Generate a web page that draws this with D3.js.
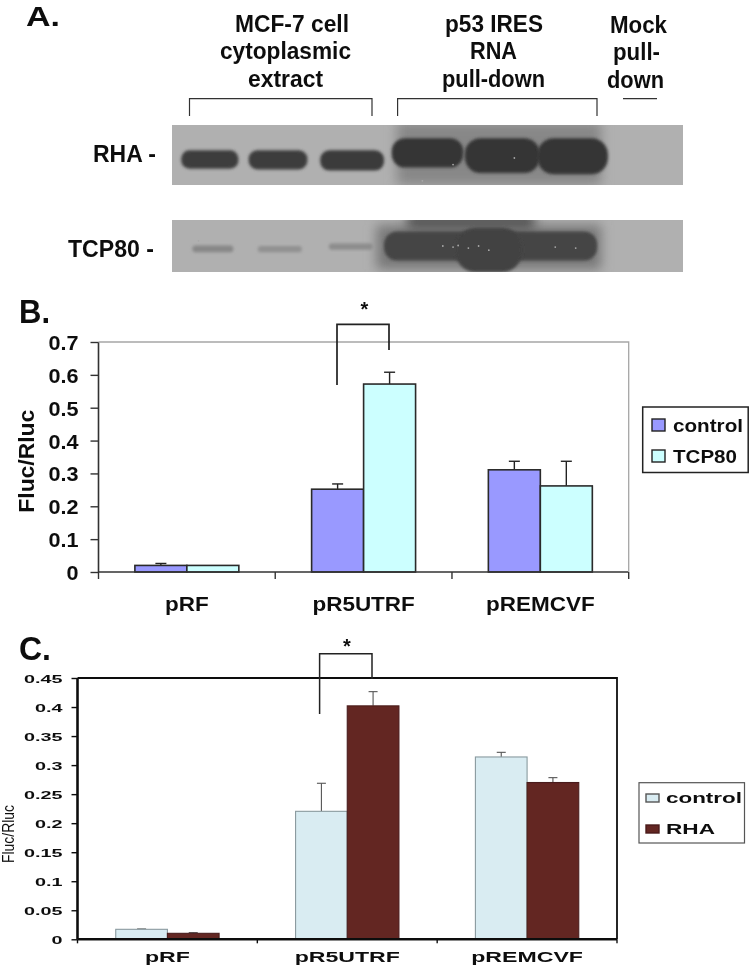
<!DOCTYPE html>
<html><head><meta charset="utf-8">
<script src="https://cdn.jsdelivr.net/npm/d3@7"></script>
<style>html,body{margin:0;padding:0;background:#fff}svg{display:block}text{font-family:"Liberation Sans",Arial,sans-serif;font-weight:bold;fill:#111}</style>
</head><body><div id="c"></div>
<script>
// ---- data ----
const categories = ["pRF","pR5UTRF","pREMCVF"];
const bControl = [0.02,0.252,0.311];
const bControlTop = [0.026,0.268,0.337];
const bTCP80 = [0.02,0.572,0.262];
const bTCP80Top = [0.02,0.608,0.337];
const bTicks = [0,0.1,0.2,0.3,0.4,0.5,0.6,0.7];
const cControl = [0.0172,0.2204,0.314];
const cControlTop = [0.0178,0.2687,0.322];
const cRHA = [0.0103,0.402,0.27];
const cRHATop = [0.0115,0.4265,0.2784];
const cTicks = [0,0.05,0.1,0.15,0.2,0.25,0.3,0.35,0.4,0.45];
// blot bands: extent across and along the gel in percent of the membrane, and grey level
const rhaBands = [[1.8,13,42,73,60],[15,26.5,42,74,60],[29,41.5,42,76,58],[43,57,22,71,54],[57.3,72,22,80,54],[71.5,85.3,22,82,54]];
const tcpBands = [[4,12,49,62,135],[16.8,25.4,50,62,145],[30.7,39.3,45,57,140],[41.5,83.2,22,78,68],[55.5,68.5,15,100,66]];
const tcpSmear = [[46,71,-10,50,72],[40,84,10,95,120]];
const rhaHalo = [[44,84,-5,100,135]];
const specks = [[5.2,40],[53,50],[55,52],[56,49],[58,54],[60,50],[62,58],[75,52],[79,54]];

const W=750,H=966;
const svg=d3.select("#c").append("svg").attr("width",W).attr("height",H);
const defs=svg.append("defs");
[["b2",1.7],["b3",6],["soft",0.45]].forEach(([id,s])=>{
  defs.append("filter").attr("id",id).attr("x","-30%").attr("y","-30%").attr("width","160%").attr("height","160%")
   .append("feGaussianBlur").attr("stdDeviation",s);
});
const root=svg.append("g").attr("filter","url(#soft)");

function label(x,y,str,size,opt={}){
  const t=root.append("text").attr("x",x).attr("y",y).attr("font-size",size).text(str)
    .attr("text-anchor",opt.anchor||"start");
  if(opt.width){t.attr("textLength",opt.width).attr("lengthAdjust","spacingAndGlyphs");}
  if(opt.weight)t.style("font-weight",opt.weight);
  if(opt.rotate)t.attr("transform",`rotate(${opt.rotate} ${x} ${y})`);
  return t;
}
function poly(pts,w,col){
  root.append("path").attr("d",d3.line()(pts)).attr("fill","none").attr("stroke",col).attr("stroke-width",w);
}

// ---- panel A ----
label(26,26,"A.",28,{width:34});
[["MCF-7 cell",235,32,114],["cytoplasmic",220,59,131],["extract",248,87,75],
 ["p53 IRES",445,32,98],["RNA",470,59,47],["pull-down",442,87,103],
 ["Mock",610,33,57],["pull-",613,60,47],["down",607,88,57],
 ["RHA -",93,162,63],["TCP80 -",68,257,86]].forEach(([s,x,y,w])=>label(x,y,s,23,{width:w}));
poly([[189.5,116],[189.5,98.7],[372,98.7],[372,116]],1.2,"#333");
poly([[397.6,116],[397.6,98.7],[597,98.7],[597,116]],1.2,"#333");
poly([[623,98.7],[657,98.7]],1.3,"#333");

function blot(id,y0,y1,bg,bands,halos,sp){
  const gx=d3.scaleLinear().domain([0,100]).range([172,683]);
  const gy=d3.scaleLinear().domain([0,100]).range([y0,y1]);
  defs.append("clipPath").attr("id",id).append("rect").attr("x",gx(0)).attr("y",y0).attr("width",gx(100)-gx(0)).attr("height",y1-y0);
  const g=root.append("g").attr("clip-path",`url(#${id})`);
  g.append("rect").attr("x",gx(0)).attr("y",y0).attr("width",gx(100)-gx(0)).attr("height",y1-y0).attr("fill",bg);
  g.selectAll("rect.h").data(halos).join("rect").attr("class","h")
    .attr("x",d=>gx(d[0])).attr("width",d=>gx(d[1])-gx(d[0]))
    .attr("y",d=>gy(d[2])).attr("height",d=>gy(d[3])-gy(d[2]))
    .attr("fill",d=>d3.rgb(d[4],d[4],d[4])).attr("filter","url(#b3)");
  g.selectAll("rect.b").data(bands).join("rect").attr("class","b")
    .attr("x",d=>gx(d[0])).attr("width",d=>gx(d[1])-gx(d[0]))
    .attr("y",d=>gy(d[2])).attr("height",d=>gy(d[3])-gy(d[2]))
    .attr("rx",d=>(gy(d[3])-gy(d[2]))*0.45)
    .attr("fill",d=>d3.rgb(d[4],d[4],d[4])).attr("filter","url(#b2)");
  g.selectAll("circle").data(sp).join("circle").attr("cx",d=>gx(d[0])).attr("cy",d=>gy(d[1])).attr("r",0.9).attr("fill","#a8a8a8");
}
blot("g1",125,185,"#b0b0b0",rhaBands,rhaHalo,[[49,93],[55,66],[67,55]]);
blot("g2",220,272,"#b0b0b0",tcpBands,tcpSmear,specks);

// ---- bar panels ----
function barPanel(o){
  const x=d3.scaleBand().domain(categories).range([o.x0,o.x1]);
  const inner=d3.scaleBand().domain([0,1]).range([0,x.bandwidth()]).paddingInner(0).paddingOuter(o.gap);
  const y=d3.scaleLinear().domain([0,o.max]).range([o.y0,o.y1]);
  const g=root.append("g");
  poly([[o.x0,o.y1],[o.x1,o.y1],[o.x1,o.y0]],o.frameW,o.frameCol);
  o.series.forEach((s,si)=>{
    const gs=g.append("g");
    const cx=c=>x(c)+inner(si)+inner.bandwidth()/2;
    gs.selectAll("line.v").data(categories).join("line").attr("class","v")
      .attr("x1",cx).attr("x2",cx)
      .attr("y1",(c,i)=>y(s.vals[i])).attr("y2",(c,i)=>y(s.tops[i]))
      .attr("stroke",o.errCol).attr("stroke-width",o.errW);
    gs.selectAll("line.c").data(categories).join("line").attr("class","c")
      .attr("x1",c=>cx(c)-o.cap).attr("x2",c=>cx(c)+o.cap)
      .attr("y1",(c,i)=>y(s.tops[i])).attr("y2",(c,i)=>y(s.tops[i]))
      .attr("stroke",o.errCol).attr("stroke-width",o.errW)
      .attr("opacity",(c,i)=>s.tops[i]>s.vals[i]?1:0);
    gs.selectAll("rect").data(categories).join("rect")
      .attr("x",c=>x(c)+inner(si)).attr("width",inner.bandwidth())
      .attr("y",(c,i)=>y(s.vals[i])).attr("height",(c,i)=>o.y0-y(s.vals[i]))
      .attr("fill",s.color).attr("stroke",s.stroke).attr("stroke-width",o.barW);
  });
  const ax=g.append("g").attr("transform",`translate(${o.x0},0)`)
    .call(d3.axisLeft(y).tickValues(o.ticks).tickSize(o.tick).tickPadding(o.pad).tickFormat(d3.format("~g")));
  ax.select(".domain").attr("stroke",o.axisCol).attr("stroke-width",o.axisW).attr("d",`M0,${o.y1}V${o.y0}`);
  ax.selectAll(".tick line").attr("stroke",o.axisCol).attr("stroke-width",1.4);
  ax.selectAll("text").attr("font-size",o.tickSize).attr("dy",o.tickDy).style("fill","#111")
    .each(function(){this.setAttribute("textLength",this.getComputedTextLength()*o.tickK);this.setAttribute("lengthAdjust","spacingAndGlyphs");});
  const bx=g.append("g").attr("transform",`translate(0,${o.y0})`)
    .call(d3.axisBottom(x).tickValues(categories).tickSize(0).tickPadding(o.xPad).tickFormat(d=>d));
  bx.select(".domain").attr("stroke",o.axisCol).attr("stroke-width",o.axisW).attr("d",`M${o.x0},0H${o.x1}`);
  bx.selectAll("text").attr("font-size",o.xSize).style("fill","#111")
    .each(function(){this.setAttribute("textLength",this.getComputedTextLength()*o.xK);this.setAttribute("lengthAdjust","spacingAndGlyphs");});
  g.selectAll("line.sep").data(categories.concat(["end"])).join("line").attr("class","sep")
    .attr("x1",(c,i)=>i<3?x(c):o.x1).attr("x2",(c,i)=>i<3?x(c):o.x1)
    .attr("y1",o.y0).attr("y2",o.y0+o.xTick).attr("stroke",o.axisCol).attr("stroke-width",1.4);
}

label(19,323,"B.",34,{width:31});
label(364.5,316,"*",20,{anchor:"middle"});
barPanel({x0:98.5,x1:628.7,y0:572,y1:342,max:0.7,ticks:bTicks,gap:0.7,
  series:[{vals:bControl,tops:bControlTop,color:"#9999ff",stroke:"#2a2a2a"},{vals:bTCP80,tops:bTCP80Top,color:"#ccffff",stroke:"#2a2a2a"}],
  frameW:1.3,frameCol:"#a6a6a6",errCol:"#222",errW:1.4,cap:5.5,barW:1.6,axisCol:"#333",axisW:1.6,
  tick:8,pad:12,tickSize:21,tickDy:"0.36em",tickK:1.03,xPad:24,xSize:21,xK:1.07,xTick:7});
label(34.5,512.7,"Fluc/Rluc",22,{width:103,rotate:-90});
poly([[337,385],[337,324.3],[389,324.3],[389,350]],1.7,"#222");

label(19,660,"C.",34,{width:32});
label(347,653,"*",20,{anchor:"middle"});
barPanel({x0:77.5,x1:617,y0:939.3,y1:678,max:0.45,ticks:cTicks,gap:0.74,
  series:[{vals:cControl,tops:cControlTop,color:"#d9ecf2",stroke:"#8a9a9f"},{vals:cRHA,tops:cRHATop,color:"#632523",stroke:"#4a1c1a"}],
  frameW:1.8,frameCol:"#111",errCol:"#555",errW:1.1,cap:4.5,barW:1.1,axisCol:"#111",axisW:2.6,
  tick:6,pad:9,tickSize:11.5,tickDy:"0.36em",tickK:1.72,xPad:13,xSize:14,xK:1.65,xTick:4});
label(14,863,"Fluc/Rluc",17,{width:58,rotate:-90,weight:"normal"});
poly([[319.6,714],[319.6,653.7],[372,653.7],[372,679]],1.5,"#222");

// ---- legends ----
function legend(box,items,size,sw){
  root.append("rect").attr("x",box[0]).attr("y",box[1]).attr("width",box[2]).attr("height",box[3])
    .attr("fill","#fff").attr("stroke",box[4]).attr("stroke-width",box[5]);
  items.forEach(it=>{
    root.append("rect").attr("x",sw[0]).attr("y",it.y).attr("width",sw[1]).attr("height",sw[2])
      .attr("fill",it.color).attr("stroke",it.stroke).attr("stroke-width",1.4);
    label(it.tx,it.by,it.s,size,{width:it.w});
  });
}
legend([642.7,407,105.5,65.5,"#222",1.5],[
  {s:"control",color:"#9999ff",stroke:"#222",y:419,tx:673,by:431.7,w:70},
  {s:"TCP80",color:"#ccffff",stroke:"#222",y:450,tx:673,by:463,w:64}],19,[652,13,12]);
legend([639,782.7,105.5,60.3,"#555",1.2],[
  {s:"control",color:"#d9ecf2",stroke:"#555",y:794,tx:666,by:803,w:76},
  {s:"RHA",color:"#632523",stroke:"#4a1c1a",y:825,tx:666,by:834,w:49}],14,[646,13,8]);
</script></body></html>
